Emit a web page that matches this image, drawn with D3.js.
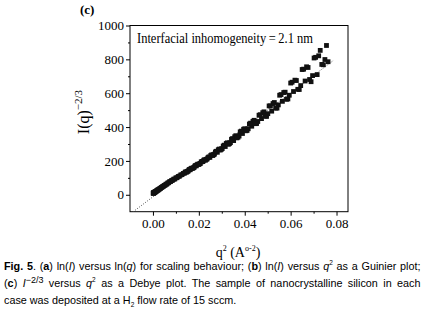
<!DOCTYPE html>
<html>
<head>
<meta charset="utf-8">
<script src="https://cdn.jsdelivr.net/npm/d3@7"></script>
<style>
  html, body { margin: 0; padding: 0; background: #fff; }
  svg { display: block; }
</style>
</head>
<body>
<svg id="chart" width="421" height="320"></svg>
<script>
// q^2 values (A^-2) and I(q)^-2/3, four interleaved runs
const q2RunA = [0.0001, 0.000225, 0.0004, 0.000625, 0.0009, 0.001225, 0.0016, 0.002025, 0.0025, 0.003025,
  0.0036, 0.004225, 0.0049, 0.005625, 0.0064, 0.007225, 0.0081, 0.009025, 0.01, 0.011025,
  0.0121, 0.013225, 0.0144, 0.015625, 0.0169, 0.018225, 0.0196, 0.021025, 0.0225, 0.024025,
  0.0256, 0.027225, 0.0289, 0.030625, 0.0324, 0.034225, 0.0361, 0.038025, 0.04, 0.042025,
  0.0441, 0.046225, 0.0484, 0.050625, 0.0529, 0.055225, 0.0576, 0.060025, 0.0625, 0.065025,
  0.0676, 0.070225, 0.0729, 0.075625];
const intRunA = [10, 11, 13, 15, 17, 20, 24, 28, 32, 37,
  43, 49, 55, 62, 69, 77, 84, 92, 100, 108,
  117, 126, 135, 146, 157, 169, 181, 194, 207, 220,
  236, 253, 270, 288, 307, 328, 349, 372, 390, 418,
  440, 470, 490, 525, 545, 588, 606, 660, 675, 740,
  752, 808, 853, 882];

const q2RunB = [0.00016, 0.00031, 0.00051, 0.00076, 0.00106, 0.00141, 0.00181, 0.00226, 0.00276, 0.00331,
  0.00391, 0.00456, 0.00526, 0.00601, 0.00681, 0.00766, 0.00856, 0.00951, 0.01051, 0.01156,
  0.01266, 0.01381, 0.01501, 0.01626, 0.01756, 0.01891, 0.02031, 0.02176, 0.02326, 0.02481,
  0.02641, 0.02806, 0.02976, 0.03151, 0.03331, 0.03516, 0.03706, 0.03901, 0.04101, 0.04306,
  0.04516, 0.04731, 0.04951, 0.05176, 0.05406, 0.05641, 0.05881, 0.06126, 0.06376, 0.06631,
  0.06891, 0.07156, 0.07426];
const intRunB = [9, 10, 12, 14, 17, 20, 24, 28, 33, 38,
  44, 50, 56, 63, 71, 78, 86, 93, 101, 110,
  119, 128, 138, 148, 159, 171, 183, 196, 209, 221,
  236, 251, 268, 285, 302, 320, 340, 362, 380, 405,
  421, 450, 463, 494, 512, 552, 566, 610, 622, 672,
  668, 710, 768];

const q2RunC = [0.014102, 0.015314, 0.016577, 0.017889, 0.019252, 0.020664, 0.022127, 0.023639,
  0.025202, 0.026814, 0.028477, 0.030189, 0.031952, 0.033764, 0.035627, 0.037539,
  0.039502, 0.041514, 0.043577, 0.045689, 0.047852, 0.050064, 0.052327, 0.054639,
  0.057002, 0.059414, 0.061877, 0.064389, 0.066952, 0.069564, 0.072227, 0.074939];
const intRunC = [134, 140, 155, 161, 178, 185, 204, 212,
  232, 240, 266, 273, 303, 308, 343, 347,
  387, 390, 434, 433, 485, 479, 539, 531,
  604, 588, 677, 645, 756, 704, 821, 799];

const q2RunD = [0.014702, 0.015939, 0.017227, 0.018564, 0.019952, 0.021389, 0.022877, 0.024414,
  0.026002, 0.027639, 0.029327, 0.031064, 0.032852, 0.034689, 0.036577, 0.038514,
  0.040502, 0.042539, 0.044627, 0.046764, 0.048952, 0.051189, 0.053477, 0.055814,
  0.058202, 0.060639, 0.063127, 0.065664, 0.068252, 0.070889, 0.073577, 0.076314];
const intRunD = [134, 150, 156, 173, 179, 197, 204, 224,
  232, 257, 264, 293, 298, 332, 336, 376,
  378, 423, 420, 473, 465, 525, 512, 592,
  564, 665, 623, 742, 681, 812, 770, 786];

// dotted linear fit, I^-2/3 = intercept + slope * q^2
const fitIntercept = -12;
const fitSlope = 10240;
const fitRange = [-0.0086, 0.0785];

const xMajor = [0, 0.02, 0.04, 0.06, 0.08];
const xMinor = [0.01, 0.03, 0.05, 0.07];
const yMajor = [0, 200, 400, 600, 800, 1000];
const yMinor = [100, 300, 500, 700, 900];

const annotation = "Interfacial inhomogeneity\u2009=\u20092.1 nm";

// layout
const plot = { left: 130, top: 25.5, right: 348, bottom: 211.7 };
const svg = d3.select("#chart");
const serif = "'Liberation Serif', 'Times New Roman', serif";
const sans = "'Liberation Sans', Arial, sans-serif";

const x = d3.scaleLinear().domain([-0.01, 0.085]).range([plot.left, plot.right]);
const y = d3.scaleLinear().domain([-100, 1000]).range([plot.bottom, plot.top]);

// panel letter
svg.append("text")
  .attr("x", 80).attr("y", 14)
  .attr("font-family", serif).attr("font-size", 13).attr("font-weight", "bold")
  .text("(c)");

// frame
svg.append("rect")
  .attr("x", plot.left).attr("y", plot.top)
  .attr("width", plot.right - plot.left).attr("height", plot.bottom - plot.top)
  .attr("fill", "none").attr("stroke", "#000").attr("stroke-width", 1);

// axes
function styleAxis(g) {
  g.select(".domain").remove();
  g.selectAll("line").attr("stroke", "#000").attr("stroke-width", 1);
  g.selectAll("text").attr("font-family", serif).attr("font-size", 13).attr("fill", "#000");
}
svg.append("g")
  .attr("transform", "translate(0," + plot.bottom + ")")
  .call(d3.axisBottom(x).tickValues(xMajor).tickSize(4).tickPadding(3).tickFormat(d3.format(".2f")))
  .call(styleAxis);
svg.append("g")
  .attr("transform", "translate(0," + plot.bottom + ")")
  .call(d3.axisBottom(x).tickValues(xMinor).tickSize(2).tickFormat(""))
  .call(styleAxis);
svg.append("g")
  .attr("transform", "translate(" + plot.left + ",0)")
  .call(d3.axisLeft(y).tickValues(yMajor).tickSize(4).tickPadding(2).tickFormat(d3.format("d")))
  .call(styleAxis);
svg.append("g")
  .attr("transform", "translate(" + plot.left + ",0)")
  .call(d3.axisLeft(y).tickValues(yMinor).tickSize(2).tickFormat(""))
  .call(styleAxis);

// fit line
svg.append("line")
  .attr("x1", x(fitRange[0])).attr("y1", y(fitIntercept + fitSlope * fitRange[0]))
  .attr("x2", x(fitRange[1])).attr("y2", y(fitIntercept + fitSlope * fitRange[1]))
  .attr("stroke", "#444").attr("stroke-width", 0.9).attr("stroke-dasharray", "1,1.5");

// scatter markers
const pairs = (qs, vs) => qs.map((q, i) => [q, vs[i]]);
const pts = pairs(q2RunA, intRunA).concat(pairs(q2RunB, intRunB), pairs(q2RunC, intRunC), pairs(q2RunD, intRunD));
const ms = 4.8;
svg.append("g").selectAll("rect")
  .data(pts)
  .enter()
  .append("rect")
  .attr("x", d => x(d[0]) - ms / 2)
  .attr("y", d => y(d[1]) - ms / 2)
  .attr("width", ms).attr("height", ms)
  .attr("fill", "#111");

// annotation
svg.append("text")
  .attr("x", 137).attr("y", 43.3)
  .attr("font-family", serif).attr("font-size", 15)
  .attr("textLength", 176).attr("lengthAdjust", "spacingAndGlyphs")
  .text(annotation);

// y label
const yl = svg.append("text")
  .attr("transform", "translate(89,112) rotate(-90)")
  .attr("text-anchor", "middle")
  .attr("font-family", serif).attr("font-size", 16);
yl.append("tspan").text("I(q)");
yl.append("tspan").attr("dy", -7).attr("font-size", 11).text("\u22122/3");

// x label
const xl = svg.append("text")
  .attr("x", 238).attr("y", 257)
  .attr("text-anchor", "middle")
  .attr("font-family", serif).attr("font-size", 14);
xl.append("tspan").text("q");
xl.append("tspan").attr("dy", -6).attr("font-size", 8).text("2");
xl.append("tspan").attr("dy", 6).text(" (A");
xl.append("tspan").attr("dy", -6).attr("font-size", 8).text("o-2");
xl.append("tspan").attr("dy", 6).text(")");

// caption
const captionLines = [
  [["Fig. 5", "b"], [". (", ""], ["a", "b"], [") ln(", ""], ["I", "i"], [") versus ln(", ""], ["q", "i"],
   [") for scaling behaviour; (", ""], ["b", "b"], [") ln(", ""], ["I", "i"], [") versus ", ""], ["q", "i"],
   ["2", "sup"], [" as a Guinier plot;", ""]],
  [["(", ""], ["c", "b"], [") ", ""], ["I", "i"], ["\u22122/3", "sup2"], [" versus ", ""], ["q", "i"], ["2", "sup"],
   [" as a Debye plot. The sample of nanocrystalline silicon in each", ""]],
  [["case was deposited at a H", ""], ["2", "sub"], [" flow rate of 15 sccm.", ""]]
];
const captionY = [270, 287, 304];
const captionWidth = [416.5, 416.5, null];

captionLines.forEach((parts, li) => {
  const t = svg.append("text")
    .attr("x", 4).attr("y", captionY[li])
    .attr("font-family", sans).attr("font-size", 10.8).attr("fill", "#000");
  let shift = 0;
  parts.forEach(([s, k]) => {
    const sp = t.append("tspan").text(s);
    let target = 0;
    if (k === "b") sp.attr("font-weight", "bold");
    if (k === "i") sp.attr("font-style", "italic");
    if (k === "sup") { sp.attr("font-size", 6.5); target = -5; }
    if (k === "sup2") { sp.attr("font-size", 9); target = -4; }
    if (k === "sub") { sp.attr("font-size", 6.5); target = 2.5; }
    if (target !== shift) { sp.attr("dy", target - shift); shift = target; }
  });
  if (captionWidth[li]) {
    const len = t.node().getComputedTextLength();
    const full = parts.map(p => p[0]).join("");
    const spaces = (full.match(/ /g) || []).length;
    t.attr("word-spacing", (captionWidth[li] - len) / spaces);
  }
});
</script>
</body>
</html>
